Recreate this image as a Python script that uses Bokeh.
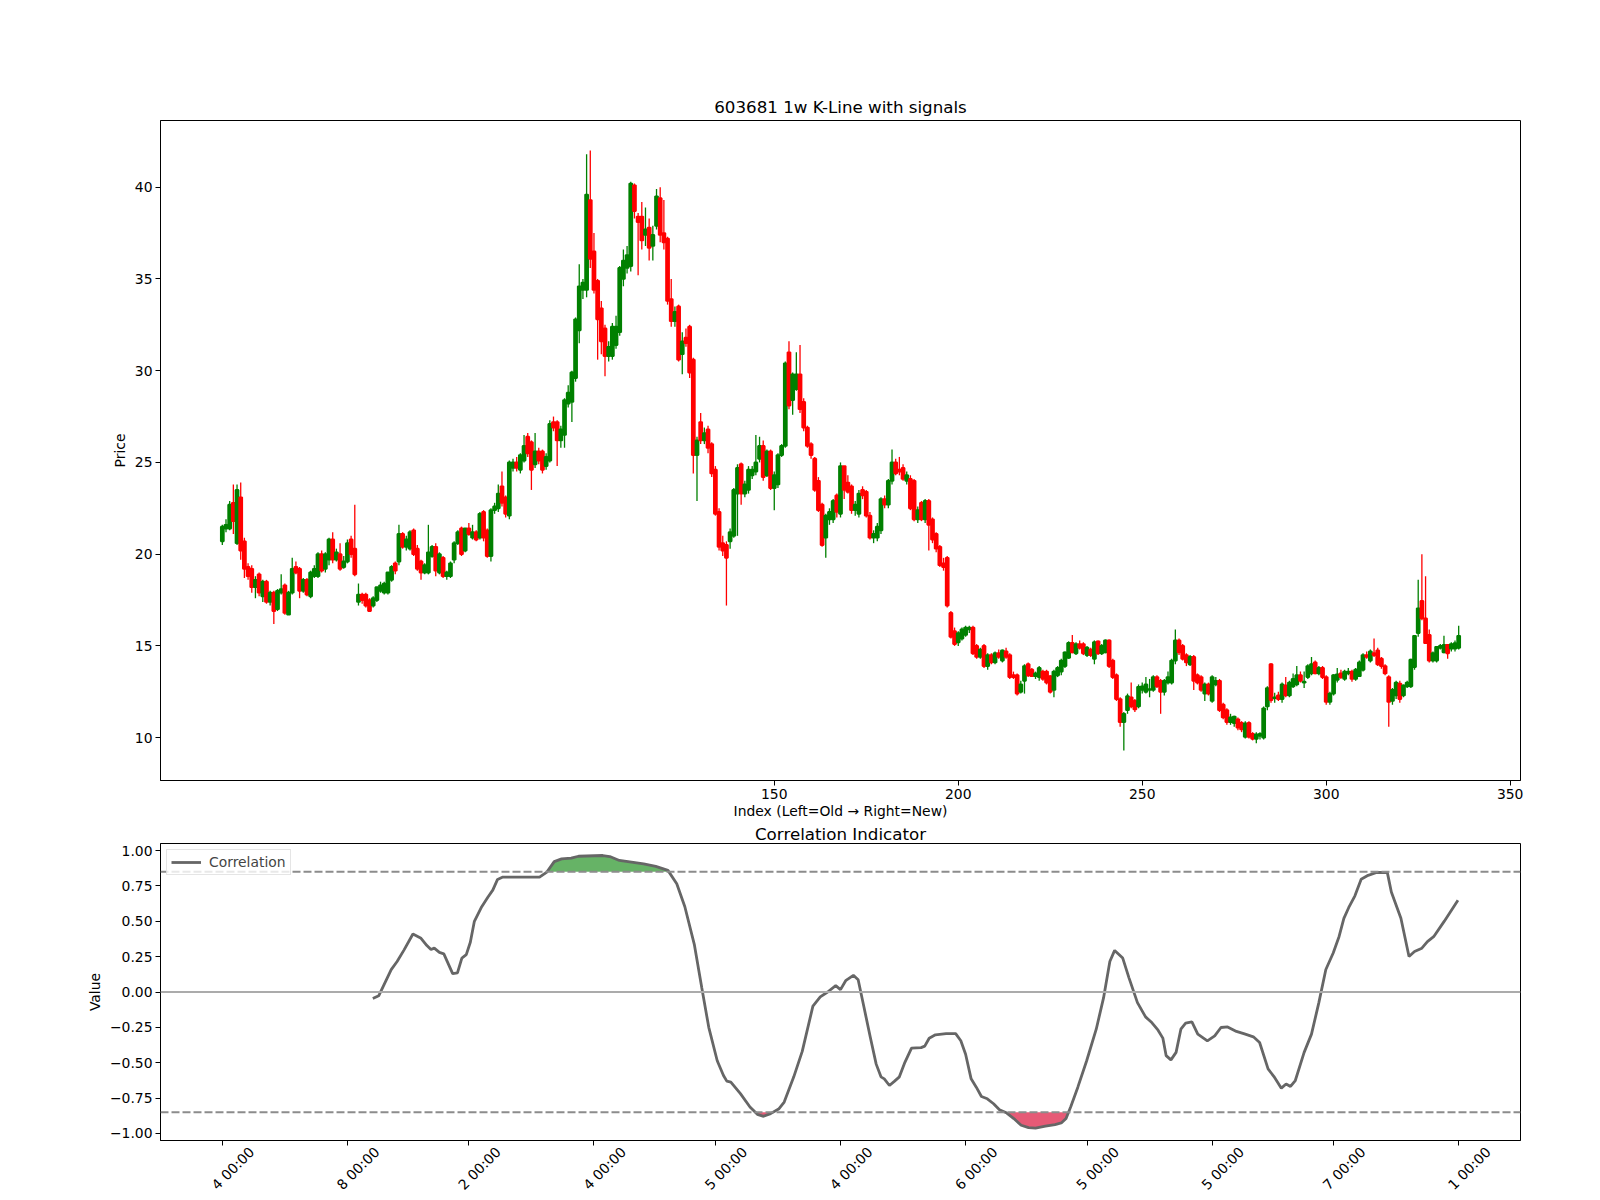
import math
from bokeh.plotting import figure
from bokeh.layouts import column
from bokeh.models import (Range1d, FixedTicker, ColumnDataSource, Span,
                          CustomJSTickFormatter, LinearAxis, CustomLabelingPolicy)
from bokeh.embed import file_html
from bokeh.resources import INLINE

# ---------------- data ----------------
opens = [
    20.7, 21.4, 21.4, 22.8, 20.6, 23.1, 20.7, 19.3, 19.2, 18.2,
    18.9, 17.7, 18.5, 17.4, 17.9, 17.0, 17.9, 18.3, 16.7, 17.9,
    19.3, 19.2, 18.0, 18.6, 17.7, 18.8, 18.8, 20.0, 19.2, 19.7,
    20.8, 19.7, 20.0, 19.3, 19.6, 20.8, 20.3, 17.4, 17.8, 17.8,
    17.5, 17.2, 17.5, 18.0, 17.9, 17.9, 18.6, 19.5, 19.6, 21.1,
    20.4, 20.3, 21.3, 20.3, 19.6, 19.0, 19.0, 19.9, 20.4, 19.0,
    19.8, 18.8, 18.8, 19.7, 20.6, 21.4, 20.2, 21.4, 20.9, 21.2,
    20.9, 22.3, 21.3, 19.9, 22.4, 22.5, 23.7, 23.1, 22.1, 24.7,
    25.0, 24.6, 25.1, 26.4, 26.1, 24.9, 25.6, 25.6, 24.8, 25.1,
    27.2, 27.2, 26.2, 26.5, 28.2, 28.3, 29.6, 32.2, 34.4, 34.4,
    39.3, 36.5, 34.9, 33.4, 32.3, 30.8, 30.8, 31.4, 32.1, 35.0,
    35.6, 35.7, 40.1, 38.4, 38.4, 37.4, 37.8, 36.8, 37.9, 39.4,
    37.5, 37.2, 33.9, 32.7, 33.5, 30.9, 31.8, 32.4, 30.6, 25.4,
    27.2, 26.2, 26.8, 26.0, 24.6, 22.3, 20.6, 20.5, 20.7, 21.0,
    23.3, 24.9, 23.3, 23.5, 24.3, 24.5, 25.2, 25.9, 24.3, 25.6,
    23.6, 23.8, 25.4, 25.9, 31.0, 28.4, 29.0, 29.8, 28.3, 26.9,
    26.0, 25.2, 24.0, 22.7, 20.9, 21.9, 21.9, 23.2, 22.2, 24.8,
    23.9, 23.7, 22.4, 22.2, 23.5, 23.4, 22.1, 20.9, 20.9, 21.3,
    23.0, 22.7, 24.0, 25.0, 24.6, 24.7, 24.0, 24.1, 24.0, 21.9,
    22.8, 21.9, 22.9, 21.9, 21.1, 20.4, 19.5, 19.8, 16.8, 15.8,
    15.2, 15.4, 15.6, 15.9, 16.0, 15.0, 14.4, 15.0, 13.9, 14.5,
    14.1, 14.6, 14.2, 14.7, 14.5, 13.4, 13.4, 12.5, 13.1, 14.0,
    13.7, 13.35, 13.3, 13.6, 13.6, 13.35, 12.6, 13.4, 13.6, 13.9,
    14.35, 15.16, 14.6, 15.1, 15.1, 14.5, 14.8, 14.3, 15.25, 14.6,
    14.65, 15.3, 14.2, 13.4, 12.1, 10.85, 11.5, 12.2, 12.0, 11.7,
    12.6, 12.5, 12.6, 12.6, 13.3, 13.1, 12.5, 13.0, 13.0, 14.2,
    15.3, 15.0, 14.5, 14.0, 14.4, 13.4, 13.3, 12.4, 12.9, 12.0,
    12.9, 13.1, 11.8, 11.5, 10.85, 10.8, 11.0, 10.8, 10.05, 10.8,
    10.2, 9.94, 10.1, 10.0, 11.7, 14.0, 12.15, 12.3, 12.1, 12.85,
    12.3, 12.8, 12.9, 13.4, 13.0, 13.3, 13.5, 14.1, 13.5, 13.8,
    13.3, 11.95, 12.4, 13.15, 13.5, 13.2, 13.5, 13.6, 13.2, 13.35,
    13.7, 14.5, 14.2, 14.6, 14.75, 14.3, 13.9, 13.3, 12.0, 12.3,
    12.95, 12.3, 12.8, 12.8, 13.85, 15.7, 17.45, 16.5, 15.6, 14.2,
    14.2, 14.9, 14.65, 15.05, 14.85, 14.85, 14.9,
]
highs = [
    21.6, 21.9, 22.9, 23.8, 23.8, 23.9, 20.9, 19.5, 19.4, 18.8,
    19.0, 18.6, 18.6, 18.0, 18.0, 18.1, 18.9, 18.4, 18.0, 19.8,
    19.6, 19.3, 18.7, 18.7, 19.1, 19.4, 20.1, 20.2, 20.1, 20.9,
    21.2, 20.3, 20.6, 19.9, 20.8, 21.0, 22.7, 18.4, 17.9, 17.9,
    17.6, 17.7, 18.2, 18.5, 18.5, 19.0, 19.4, 19.6, 21.6, 21.2,
    21.0, 21.3, 21.4, 20.5, 19.7, 19.5, 21.6, 20.5, 20.6, 20.1,
    19.9, 19.1, 19.6, 20.7, 21.3, 21.5, 21.4, 21.7, 21.6, 21.3,
    22.3, 22.4, 21.4, 22.5, 22.8, 23.8, 24.5, 23.2, 25.1, 25.2,
    25.3, 25.5, 26.5, 26.6, 26.2, 26.6, 25.8, 25.7, 25.5, 27.3,
    27.5, 27.3, 27.0, 28.5, 29.2, 30.0, 32.9, 35.8, 35.0, 41.8,
    42.0, 37.5, 35.0, 33.8, 32.5, 31.6, 32.6, 33.0, 35.7, 36.6,
    36.8, 40.3, 40.2, 38.6, 39.2, 38.9, 38.3, 37.9, 39.9, 40.0,
    39.3, 37.3, 35.0, 33.5, 33.6, 32.1, 32.3, 32.5, 30.7, 26.4,
    27.7, 26.9, 27.0, 26.1, 24.8, 22.5, 21.0, 20.7, 21.4, 23.6,
    24.9, 25.0, 24.0, 24.8, 24.8, 26.5, 26.4, 26.2, 25.7, 25.7,
    24.5, 25.5, 26.0, 30.5, 31.6, 29.9, 31.0, 31.4, 28.5, 27.0,
    26.1, 25.3, 24.2, 22.8, 22.2, 22.5, 23.0, 23.3, 25.0, 24.8,
    24.3, 23.8, 22.9, 23.5, 23.7, 23.5, 22.3, 21.3, 21.7, 23.1,
    23.2, 24.1, 25.7, 25.2, 25.3, 24.9, 24.5, 24.3, 24.1, 22.6,
    22.9, 23.0, 23.0, 22.0, 21.2, 20.5, 19.8, 19.9, 16.9, 16.0,
    15.8, 16.0, 16.1, 16.1, 16.1, 15.1, 14.9, 15.1, 14.6, 14.6,
    14.7, 14.8, 14.8, 14.9, 14.6, 13.6, 13.5, 13.1, 14.0, 14.1,
    13.8, 13.6, 13.9, 13.7, 13.7, 13.4, 13.7, 13.9, 14.3, 14.7,
    15.25, 15.6, 15.2, 15.3, 15.2, 15.0, 14.9, 15.3, 15.3, 15.1,
    15.35, 15.35, 14.3, 13.5, 12.2, 11.4, 12.4, 13.0, 12.1, 12.9,
    13.0, 13.3, 13.2, 13.4, 13.4, 13.2, 13.2, 13.6, 14.3, 15.9,
    15.4, 15.1, 14.6, 14.5, 14.5, 13.5, 13.4, 13.0, 13.0, 13.4,
    13.3, 13.2, 11.9, 11.6, 11.3, 11.2, 11.1, 10.9, 10.9, 10.9,
    10.3, 10.3, 10.3, 11.7, 12.8, 14.05, 12.45, 12.5, 13.0, 13.3,
    13.1, 13.5, 13.9, 13.6, 13.6, 14.0, 14.4, 14.2, 13.9, 13.9,
    13.4, 12.5, 13.45, 13.8, 13.7, 13.7, 13.8, 13.7, 13.8, 14.2,
    14.6, 14.7, 14.8, 15.4, 14.9, 14.4, 14.0, 13.4, 12.7, 13.1,
    13.1, 12.9, 13.1, 14.3, 15.6, 18.6, 20.0, 18.8, 15.9, 14.7,
    15.0, 15.1, 15.55, 15.1, 15.2, 15.3, 16.1,
]
lows = [
    20.5, 21.2, 21.3, 21.1, 20.5, 19.7, 18.7, 18.6, 17.9, 17.6,
    17.7, 17.4, 17.3, 17.2, 16.2, 16.9, 17.8, 16.7, 16.7, 17.8,
    18.9, 17.6, 17.9, 17.7, 17.6, 18.7, 18.7, 19.0, 19.0, 19.4,
    19.5, 19.6, 19.1, 19.2, 19.5, 19.8, 18.8, 17.2, 17.3, 17.1,
    16.9, 17.1, 17.4, 17.9, 17.8, 17.8, 18.5, 18.9, 19.4, 20.3,
    20.2, 20.2, 19.9, 19.1, 18.6, 18.9, 18.9, 19.8, 18.8, 18.9,
    18.7, 18.6, 18.7, 19.5, 20.5, 19.9, 20.1, 21.0, 20.8, 20.7,
    20.8, 20.7, 19.8, 19.6, 22.2, 22.3, 22.6, 22.0, 21.9, 24.5,
    24.5, 24.4, 25.0, 25.3, 23.5, 24.7, 24.9, 24.4, 24.6, 25.0,
    26.7, 24.8, 25.8, 25.8, 28.0, 27.2, 29.4, 31.5, 33.9, 34.0,
    35.6, 34.2, 30.6, 30.9, 29.7, 30.5, 30.6, 31.2, 31.9, 34.6,
    35.3, 35.4, 38.3, 35.2, 36.6, 36.8, 36.0, 36.0, 37.7, 37.0,
    36.6, 33.6, 32.4, 32.4, 30.5, 29.8, 31.3, 29.6, 24.4, 22.9,
    26.0, 26.0, 25.5, 24.2, 22.1, 20.2, 19.9, 17.2, 20.3, 20.9,
    21.0, 22.7, 23.1, 23.3, 24.1, 24.3, 25.0, 24.0, 24.2, 23.5,
    22.4, 23.6, 25.3, 25.8, 27.9, 27.6, 28.9, 27.7, 26.7, 25.8,
    25.2, 23.4, 22.3, 20.4, 19.8, 21.6, 21.7, 22.0, 22.0, 23.0,
    23.3, 22.2, 22.1, 22.0, 23.0, 22.0, 20.8, 20.6, 20.7, 21.1,
    22.5, 22.5, 23.8, 24.3, 24.3, 24.0, 23.8, 22.4, 21.8, 21.7,
    21.8, 21.7, 20.2, 20.6, 20.1, 19.3, 19.1, 17.1, 15.4, 15.0,
    15.0, 15.3, 15.5, 15.7, 14.5, 14.3, 14.3, 13.8, 13.7, 14.0,
    14.0, 14.3, 14.1, 14.3, 13.2, 13.2, 12.3, 12.4, 12.4, 13.3,
    13.3, 13.2, 13.1, 13.1, 12.9, 12.4, 12.2, 13.3, 13.4, 13.8,
    14.3, 14.6, 14.5, 14.8, 14.5, 14.4, 14.4, 14.0, 14.5, 14.5,
    14.6, 13.8, 13.2, 12.0, 10.6, 9.3, 11.3, 11.6, 11.4, 11.6,
    12.4, 12.4, 12.2, 12.5, 12.7, 11.3, 12.3, 12.9, 12.9, 14.0,
    14.5, 14.2, 13.9, 13.9, 12.6, 12.9, 12.5, 12.0, 12.3, 11.9,
    12.8, 11.4, 11.0, 10.7, 10.7, 10.6, 10.4, 10.3, 9.95, 9.95,
    9.85, 9.7, 9.9, 9.9, 11.5, 11.9, 11.9, 12.0, 11.9, 12.2,
    12.2, 12.7, 12.8, 13.0, 12.7, 13.2, 13.4, 13.45, 13.4, 13.2,
    11.8, 11.8, 12.3, 13.0, 13.2, 13.1, 13.4, 13.05, 13.1, 13.3,
    13.6, 14.3, 14.1, 14.4, 13.9, 13.75, 13.4, 10.6, 11.8, 12.1,
    11.9, 12.2, 12.7, 12.7, 13.7, 15.5, 16.4, 15.1, 14.1, 14.1,
    14.1, 14.8, 14.6, 14.3, 14.7, 14.7, 14.8,
]
closes = [
    21.5, 21.6, 22.7, 21.8, 23.5, 20.2, 19.2, 18.8, 18.2, 18.6,
    17.9, 18.5, 17.4, 17.9, 16.9, 18.0, 18.1, 16.8, 17.9, 19.2,
    19.0, 18.0, 18.6, 17.8, 19.0, 19.2, 20.0, 19.1, 20.0, 20.8,
    19.7, 20.1, 19.2, 19.6, 20.6, 20.0, 18.9, 17.8, 17.5, 17.2,
    16.9, 17.6, 18.2, 18.3, 18.4, 19.0, 19.3, 19.1, 21.1, 20.4,
    20.8, 21.2, 20.0, 19.2, 19.0, 19.4, 20.1, 20.4, 19.1, 20.0,
    18.8, 19.0, 19.5, 20.6, 21.2, 20.0, 21.4, 21.1, 21.2, 20.8,
    22.2, 20.9, 19.9, 22.4, 22.6, 23.3, 22.8, 22.2, 25.0, 25.0,
    24.7, 25.4, 25.9, 25.5, 24.6, 25.6, 25.1, 24.6, 25.3, 27.1,
    26.9, 26.2, 26.8, 28.4, 28.8, 29.9, 32.8, 34.6, 34.8, 39.6,
    36.1, 34.4, 32.8, 31.6, 30.8, 31.3, 32.4, 32.4, 35.6, 36.0,
    36.3, 40.2, 38.7, 38.1, 37.1, 37.7, 36.7, 37.4, 39.5, 37.4,
    37.0, 33.8, 32.7, 33.2, 30.6, 31.6, 31.5, 29.9, 25.4, 26.2,
    26.2, 26.6, 25.8, 24.4, 22.2, 20.4, 20.2, 19.8, 21.2, 23.5,
    24.7, 23.3, 23.8, 24.6, 24.6, 25.0, 25.9, 24.2, 25.6, 23.6,
    24.3, 25.4, 25.9, 30.4, 28.1, 29.8, 29.8, 27.9, 26.9, 25.9,
    25.4, 23.5, 22.4, 20.5, 22.1, 22.3, 22.9, 22.3, 24.8, 23.5,
    23.4, 22.4, 22.7, 23.3, 23.2, 22.1, 20.9, 21.1, 21.5, 23.0,
    22.7, 24.0, 25.0, 24.4, 24.5, 24.1, 24.3, 22.5, 21.9, 22.4,
    21.9, 22.9, 21.6, 20.8, 20.3, 19.4, 19.3, 17.2, 15.5, 15.1,
    15.7, 15.9, 16.0, 16.0, 14.6, 14.4, 14.8, 13.9, 14.5, 14.1,
    14.6, 14.4, 14.75, 14.4, 13.3, 13.3, 12.4, 12.9, 13.9, 13.4,
    13.35, 13.5, 13.8, 13.2, 13.0, 12.5, 13.6, 13.8, 14.2, 14.65,
    15.16, 14.65, 15.1, 14.9, 14.6, 14.9, 14.5, 15.2, 14.6, 15.0,
    15.3, 13.9, 13.3, 12.1, 10.85, 11.3, 12.26, 11.7, 11.54, 12.77,
    12.8, 12.9, 12.65, 13.3, 12.8, 12.5, 13.1, 13.3, 14.2, 15.3,
    14.65, 14.3, 14.1, 14.4, 13.1, 13.0, 12.6, 12.9, 12.4, 13.3,
    13.1, 11.5, 11.1, 10.85, 11.1, 11.15, 10.55, 10.45, 10.78, 10.05,
    9.94, 10.18, 10.2, 11.6, 12.7, 12.05, 12.2, 12.1, 12.9, 12.3,
    13.0, 13.2, 13.4, 13.1, 13.05, 13.9, 14.0, 13.5, 13.8, 13.3,
    11.95, 12.4, 13.4, 13.45, 13.3, 13.6, 13.6, 13.2, 13.7, 14.1,
    14.5, 14.4, 14.7, 14.5, 14.0, 13.9, 13.5, 11.95, 12.6, 13.0,
    12.1, 12.85, 13.0, 14.25, 15.55, 17.05, 16.5, 15.15, 14.2, 14.6,
    14.95, 15.0, 15.05, 14.6, 15.1, 15.15, 15.55,
]
bar_index = list(range(len(closes)))

price_ticks = [10, 15, 20, 25, 30, 35, 40]
index_ticks = [150, 200, 250, 300, 350]

corr_idx = [
    40.9, 42.5, 45.9, 47.5, 49.4, 51.8, 54.0, 55.6, 56.7, 57.6,
    59.0, 60.2, 62.6, 63.9, 65.1, 66.3, 67.4, 68.5, 70.5, 72.2,
    73.5, 74.8, 76.1, 80.3, 86.2, 88.2, 90.2, 92.2, 94.8, 96.8,
    103.4, 105.3, 107.9, 111.2, 114.5, 117.8, 121.1, 123.5, 125.7, 128.3,
    130.3, 132.2, 134.5, 136.2, 137.1, 138.2, 140.8, 143.4, 145.4, 147.1,
    149.0, 151.3, 152.7, 155.3, 157.6, 160.5, 162.5, 164.5, 166.7, 168.0,
    169.4, 171.5, 172.8, 174.4, 176.1, 177.7, 179.0, 179.9, 181.3, 182.7,
    184.0, 185.5, 187.3, 189.9, 190.9, 192.1, 193.8, 196.7, 199.3, 200.7,
    202.0, 203.5, 204.9, 206.3, 207.9, 209.6, 211.2, 213.2, 215.1, 217.1,
    219.1, 221.0, 223.7, 226.3, 228.0, 229.3, 230.6, 232.5, 234.9, 237.5,
    239.5, 241.2, 242.5, 244.7, 246.4, 248.7, 250.9, 252.6, 254.3, 255.6,
    256.5, 257.8, 259.2, 260.5, 261.8, 263.5, 265.1, 267.7, 269.7, 271.4,
    273.2, 275.6, 278.0, 280.2, 281.9, 284.2, 285.8, 287.8, 289.1, 290.3,
    291.6, 294.0, 296.0, 298.0, 299.9, 301.9, 303.5, 304.8, 306.1, 307.8,
    309.5, 311.4, 313.7, 316.6, 317.7, 320.3, 322.5, 324.0, 326.0, 327.5,
    329.2, 332.1, 335.8,
]
corr_val = [
    -0.046, -0.027, 0.158, 0.216, 0.298, 0.41, 0.38, 0.328, 0.30, 0.31,
    0.28, 0.27, 0.13, 0.135, 0.24, 0.264, 0.352, 0.50, 0.603, 0.672,
    0.72, 0.796, 0.812, 0.812, 0.812, 0.848, 0.922, 0.941, 0.946, 0.96,
    0.965, 0.958, 0.93, 0.918, 0.906, 0.888, 0.86, 0.766, 0.603, 0.333,
    0.03, -0.25, -0.486, -0.59, -0.63, -0.637, -0.719, -0.813, -0.865, -0.879,
    -0.86, -0.825, -0.778, -0.60, -0.42, -0.10, -0.035, 0.0, 0.045, 0.017,
    0.08, 0.118, 0.087, -0.11, -0.32, -0.51, -0.60, -0.614, -0.661, -0.63,
    -0.60, -0.497, -0.397, -0.393, -0.383, -0.327, -0.303, -0.294, -0.294, -0.345,
    -0.44, -0.614, -0.673, -0.739, -0.755, -0.79, -0.832, -0.856, -0.895, -0.942,
    -0.959, -0.963, -0.949, -0.937, -0.926, -0.895, -0.809, -0.673, -0.486, -0.263,
    -0.04, 0.216, 0.294, 0.24, 0.10, -0.075, -0.176, -0.216, -0.27, -0.326,
    -0.45, -0.48, -0.427, -0.263, -0.22, -0.212, -0.298, -0.345, -0.31, -0.251,
    -0.247, -0.279, -0.298, -0.317, -0.357, -0.544, -0.598, -0.68, -0.65, -0.668,
    -0.626, -0.427, -0.298, -0.075, 0.159, 0.276, 0.393, 0.521, 0.596, 0.68,
    0.797, 0.825, 0.845, 0.846, 0.707, 0.521, 0.251, 0.286, 0.31, 0.356,
    0.391, 0.501, 0.649,
]
upper_threshold = 0.85
lower_threshold = -0.85

date_tick_pos = [0, 34, 67, 101, 134, 168, 202, 235, 269, 302, 336]
date_tick_labels = ["4 00:00", "8 00:00", "2 00:00", "4 00:00", "5 00:00", "4 00:00",
                    "6 00:00", "5 00:00", "5 00:00", "7 00:00", "1 00:00"]
value_ticks = [-1.0, -0.75, -0.5, -0.25, 0.0, 0.25, 0.5, 0.75, 1.0]

# ---------------- helpers ----------------
FONT = "DejaVu Sans"
TICK_FS = "13.9px"
TITLE_FS = "16.7px"
LABEL_SHIFT = 8.0   # rotated date labels sit to the right of their tick (style offset)


def style(p):
    p.xgrid.visible = False
    p.ygrid.visible = False
    p.outline_line_color = "black"
    p.outline_line_width = 1
    p.background_fill_color = "white"
    p.border_fill_color = "white"
    p.title.align = "center"
    p.title.text_font = FONT
    p.title.text_font_size = TITLE_FS
    p.title.text_font_style = "normal"
    p.title.text_color = "black"
    for ax in list(p.xaxis) + list(p.yaxis):
        ax.major_tick_in = 0
        ax.major_tick_out = 5
        ax.minor_tick_line_color = None
        ax.axis_line_color = "black"
        ax.major_tick_line_color = "black"
        ax.major_label_text_font = FONT
        ax.major_label_text_font_size = TICK_FS
        ax.major_label_text_color = "black"
        ax.axis_label_text_font = FONT
        ax.axis_label_text_font_size = TICK_FS
        ax.axis_label_text_font_style = "normal"
        ax.axis_label_text_color = "black"
        ax.major_label_standoff = 3
        ax.axis_label_standoff = 4


def crossing_fill(xs, ys, thr, above):
    """Insert threshold crossings so that the fill follows the line exactly."""
    fx, fy = [], []
    for k in range(len(xs)):
        if k > 0:
            y0, y1 = ys[k - 1], ys[k]
            if (y0 - thr) * (y1 - thr) < 0:
                t = (thr - y0) / (y1 - y0)
                fx.append(xs[k - 1] + t * (xs[k] - xs[k - 1]))
                fy.append(thr)
        fx.append(xs[k])
        fy.append(max(ys[k], thr) if above else min(ys[k], thr))
    return fx, fy


x_rng = Range1d(-16.8, 352.8)

# ---------------- top panel: candlesticks ----------------
p1 = figure(frame_width=1360, frame_height=660, x_range=x_rng,
            y_range=Range1d(7.665, 43.635), output_backend="svg",
            toolbar_location=None, min_border_left=160, min_border_right=72,
            min_border_top=120, min_border_bottom=0,
            title="603681 1w K-Line with signals")
style(p1)
p1.title.standoff = 7
p1.xaxis.axis_label_standoff = 1

colors = ["green" if c >= o else "red" for o, c in zip(opens, closes)]
src = ColumnDataSource(dict(
    x=bar_index, o=opens, h=highs, l=lows, c=closes,
    top=[max(o, c) for o, c in zip(opens, closes)],
    bottom=[min(o, c) for o, c in zip(opens, closes)],
    color=colors))
p1.segment(x0="x", y0="l", x1="x", y1="h", line_color="color", line_width=1.3, source=src)
p1.vbar(x="x", width=0.8, top="top", bottom="bottom", fill_color="color",
        line_color="color", line_width=1.8, source=src)

p1.xaxis.ticker = FixedTicker(ticks=index_ticks)
p1.yaxis.ticker = FixedTicker(ticks=price_ticks)
p1.xaxis.axis_label = "Index (Left=Old \u2192 Right=New)"
p1.yaxis.axis_label = "Price"

# ---------------- bottom panel: correlation ----------------
p2 = figure(frame_width=1360, frame_height=297, x_range=x_rng,
            y_range=Range1d(-1.05, 1.05), output_backend="svg",
            toolbar_location=None, min_border_left=160, min_border_right=72,
            min_border_top=0, min_border_bottom=0,
            title="Correlation Indicator")
style(p2)
p2.title.standoff = 0

p2.add_layout(Span(location=upper_threshold, dimension="width", line_color="#8c8c8c",
                   line_dash="8 3", line_width=2))
p2.add_layout(Span(location=lower_threshold, dimension="width", line_color="#8c8c8c",
                   line_dash="8 3", line_width=2))
p2.add_layout(Span(location=0, dimension="width", line_color="#ababab", line_width=2))

gx, gy = crossing_fill(corr_idx, corr_val, upper_threshold, True)
p2.varea(x=gx, y1=[upper_threshold] * len(gx), y2=gy, fill_color="green", fill_alpha=0.6)
rx, ry = crossing_fill(corr_idx, corr_val, lower_threshold, False)
p2.varea(x=rx, y1=ry, y2=[lower_threshold] * len(rx), fill_color="crimson", fill_alpha=0.7)

p2.line(corr_idx, corr_val, line_color="#666666", line_width=2.8, legend_label="Correlation")

p2.legend.location = "top_left"
p2.legend.label_text_font = FONT
p2.legend.label_text_font_size = TICK_FS
p2.legend.border_line_color = "#cccccc"
p2.legend.border_line_width = 1
p2.legend.background_fill_alpha = 0.8
p2.legend.margin = 6
p2.legend.padding = 4
p2.legend.glyph_width = 30
p2.legend.glyph_height = 16
p2.legend.label_height = 16
p2.legend.label_standoff = 8

p2.yaxis.ticker = FixedTicker(ticks=value_ticks)
p2.yaxis.formatter = CustomJSTickFormatter(
    code="return (tick < 0 ? '\u2212' : '') + Math.abs(tick).toFixed(2);")
p2.yaxis.axis_label = "Value"

# tick marks at the date positions (no labels on this axis) ...
p2.xaxis.ticker = FixedTicker(ticks=date_tick_pos)
p2.xaxis.major_label_text_font_size = "0px"
p2.xaxis.major_label_standoff = 0
p2.xaxis.major_label_policy = CustomLabelingPolicy(
    code="for (const i of indices) { indices.unset(i) }\nreturn indices")
# ... and the rotated date labels drawn by a second, mark-less axis
label_pos = [t + LABEL_SHIFT for t in date_tick_pos]
label_axis = LinearAxis(
    ticker=FixedTicker(ticks=label_pos),
    formatter=CustomJSTickFormatter(
        args=dict(pos=label_pos, labs=date_tick_labels),
        code="""
let best = 0;
for (let k = 0; k < pos.length; k++) {
  if (Math.abs(pos[k] - tick) < Math.abs(pos[best] - tick)) { best = k; }
}
return labs[best];"""),
    axis_line_color=None, major_tick_line_color=None, minor_tick_line_color=None,
    major_tick_in=0, major_tick_out=0,
    major_label_orientation=math.pi / 4, major_label_standoff=4,
    major_label_text_font=FONT, major_label_text_font_size=TICK_FS,
    major_label_text_color="black")
p2.add_layout(label_axis, "below")

layout = column(p1, p2, spacing=0)
open("out.html", "w").write(file_html(layout, INLINE))
